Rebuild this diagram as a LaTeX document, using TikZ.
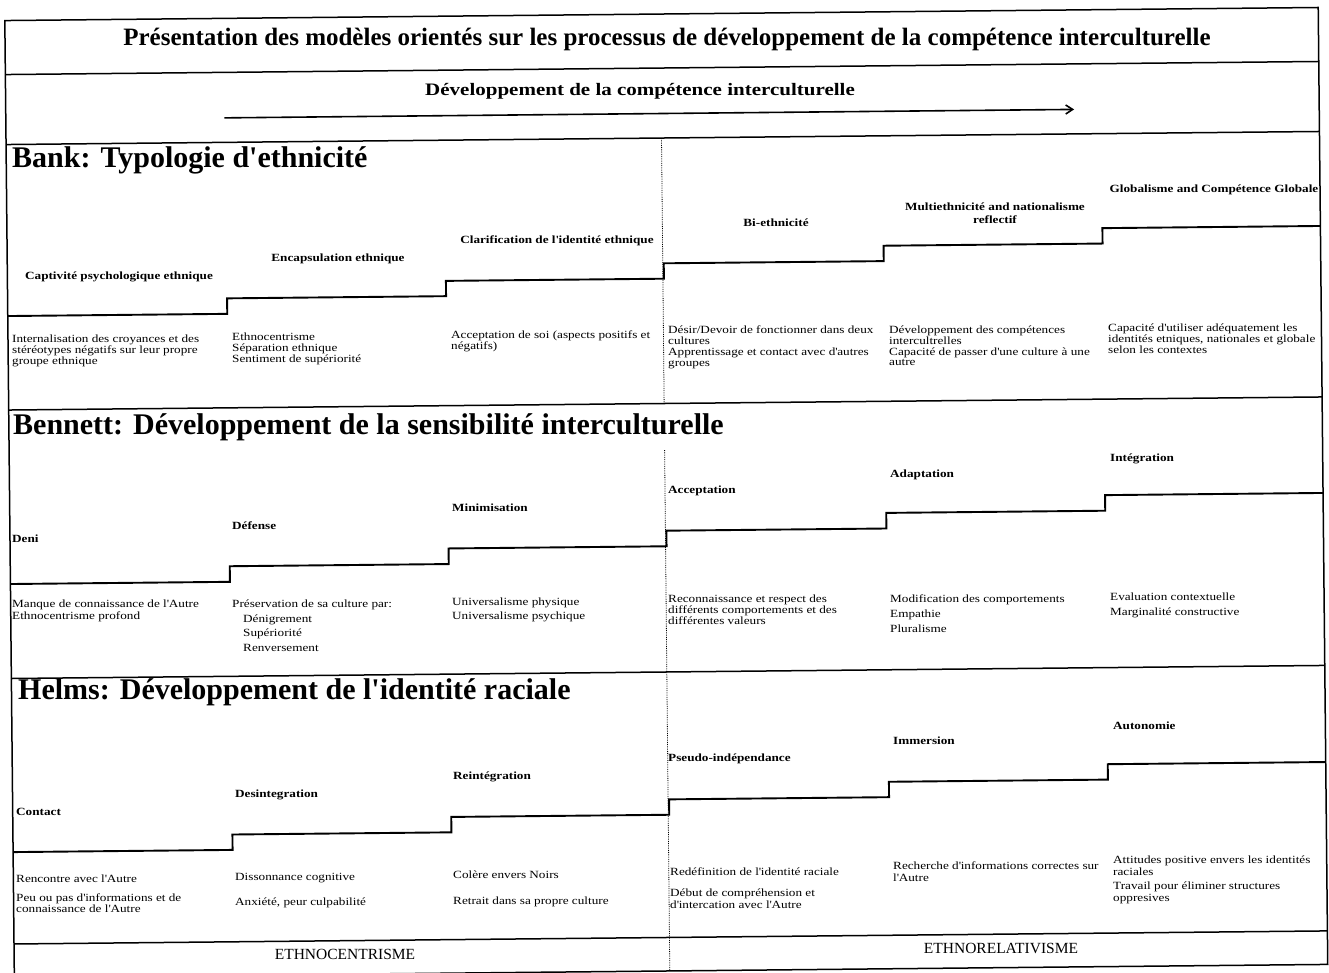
\documentclass[tikz,border=0pt]{standalone}
\usepackage{fontspec}
\setmainfont{Liberation Serif}
\newfontfamily\wide{Liberation Serif}[FakeStretch=1.2]
\usetikzlibrary{arrows.meta}
\lineskiplimit=-20pt
\newcommand\sq{\XeTeXglyph\XeTeXcharglyph"27\relax}
\begin{document}
\begin{tikzpicture}[x=1pt,y=-1pt,
  frame/.style={line width=1.5pt},
  stair/.style={line width=1.9pt},
  midline/.style={line width=0.8pt, densely dotted},
  lab/.style={font=\wide\bfseries\fontsize{11}{13}\selectfont, inner sep=0pt},
  desc/.style={font=\wide\fontsize{11}{10.8}\selectfont, align=left, inner sep=0pt, anchor=north west},
  sect/.style={font=\bfseries\fontsize{30}{32}\selectfont, inner sep=0pt, anchor=mid west},
  bigtitle/.style={font=\bfseries\fontsize{25}{27}\selectfont, inner sep=0pt, anchor=mid},
  foot/.style={font=\fontsize{15.5}{17}\selectfont, inner sep=0pt, anchor=mid},
]
\useasboundingbox (0,0) rectangle (1329,973);
\fill[white] (0,0) rectangle (1329,973);
\begin{scope}[rotate around={0.57:(665,490)}]
  % frame and row dividers
  \draw[frame] (9.5,14) rectangle (1323,971);
  \draw[frame] (9.5,68) -- (1323,68);
  \draw[frame] (9.5,138) -- (1323,138);
  \draw[frame] (9.5,403.5) -- (1323,403.5);
  \draw[frame] (9.5,672) -- (1323,672);
  \draw[frame] (9.5,937.5) -- (1323,937.5);
  % middle dotted separator
  \draw[midline] (665,138) -- (665,403.5);
  \draw[midline] (665,450) -- (665,672);
  \draw[midline] (665,672) -- (665,971);
  % arrow
  \coordinate (arS) at (228,113.5);
  \coordinate (arE) at (1078,113.5);
  \draw[line width=1.6pt, -{Straight Barb[length=7pt,width=9pt,line width=1.6pt]}] (arS) -- (arE);
  % stairs
  \draw[stair] (9.5,309.5) -| (229,294) -| (448,278.7) -| (666,263.3) -| (886,247.9) -| (1105,232.5) -- (1323,232.5);
  \draw[stair] (9.5,577.5) -| (229,561.9) -| (448,546.3) -| (666,530.7) -| (886,515.1) -| (1105,499.5) -- (1323,499.5);
  \draw[stair] (9.5,845.6) -| (229,830.2) -| (448,814.8) -| (666,799.4) -| (886,784) -| (1105,768.6) -- (1323,768.6);
\end{scope}

% headings
\node[bigtitle] (title) at (667,43) {Présentation des modèles orientés sur les processus de développement de la compétence interculturelle};
\node[font=\wide\bfseries\fontsize{17.5}{19}\selectfont, inner sep=0pt, anchor=mid] (dev) at (640,93) {Développement de la compétence interculturelle};

% Bank
\node[sect] (bank) at (12,165.5) {Bank: Typologie d\sq ethnicité};
\node[lab, anchor=mid] (b1) at (119,277) {Captivité psychologique ethnique};
\node[lab, anchor=mid] (b2) at (338,259) {Encapsulation ethnique};
\node[lab, anchor=mid] (b3) at (557,241.5) {Clarification de l\sq identité ethnique};
\node[lab, anchor=mid] (b4) at (776,224) {Bi-ethnicité};
\node[lab, anchor=north, align=center] (b5) at (995,202.7) {Multiethnicité and nationalisme\\reflectif};
\node[lab, anchor=mid] (b6) at (1214,190) {Globalisme and Compétence Globale};
\node[desc] (bd1) at (12,334.7) {Internalisation des croyances et des\\stéréotypes négatifs sur leur propre\\groupe ethnique};
\node[desc] (bd2) at (232,332.7) {Ethnocentrisme\\Séparation ethnique\\Sentiment de supériorité};
\node[desc] (bd3) at (451,330.7) {Acceptation de soi (aspects positifs et\\négatifs)};
\node[desc] (bd4) at (668,325.7) {Désir/Devoir de fonctionner dans deux\\cultures\\Apprentissage et contact avec d\sq autres\\groupes};
\node[desc] (bd5) at (889,325.7) {Développement des compétences\\intercultrelles\\Capacité de passer d\sq une culture à une\\autre};
\node[desc] (bd6) at (1108,323.7) {Capacité d\sq utiliser adéquatement les\\identités etniques, nationales et globale\\selon les contextes};

% Bennett
\node[sect] (bennett) at (13,432.5) {Bennett: Développement de la sensibilité interculturelle};
\node[lab, anchor=mid west] (n1) at (12,540) {Deni};
\node[lab, anchor=mid west] (n2) at (232,527) {Défense};
\node[lab, anchor=mid west] (n3) at (452,509) {Minimisation};
\node[lab, anchor=mid west] (n4) at (668,491) {Acceptation};
\node[lab, anchor=mid west] (n5) at (890,475) {Adaptation};
\node[lab, anchor=mid west] (n6) at (1110,459) {Intégration};
\node[desc] (nd1) at (12,599.7) {Manque de connaissance de l\sq Autre\\[1pt]Ethnocentrisme profond};
\node[desc] (nd2) at (232,599.7) {Préservation de sa culture par:\\[3.7pt]\hspace*{11pt}Dénigrement\\[3.7pt]\hspace*{11pt}Supériorité\\[3.7pt]\hspace*{11pt}Renversement};
\node[desc] (nd3) at (452,597.7) {Universalisme physique\\[3.2pt]Universalisme psychique};
\node[desc] (nd4) at (668,594.7) {Reconnaissance et respect des\\différents comportements et des\\différentes valeurs};
\node[desc] (nd5) at (890,594.7) {Modification des comportements\\[4.2pt]Empathie\\[4.2pt]Pluralisme};
\node[desc] (nd6) at (1110,592.7) {Evaluation contextuelle\\[4.2pt]Marginalité constructive};

% Helms
\node[sect] (helms) at (18,697) {Helms: Développement de l\sq identité raciale};
\node[lab, anchor=mid west] (h1) at (16,813) {Contact};
\node[lab, anchor=mid west] (h2) at (235,795) {Desintegration};
\node[lab, anchor=mid west] (h3) at (453,777) {Reintégration};
\node[lab, anchor=mid west] (h4) at (668,759) {Pseudo-indépendance};
\node[lab, anchor=mid west] (h5) at (893,742) {Immersion};
\node[lab, anchor=mid west] (h6) at (1113,727) {Autonomie};
\node[desc] (hd1) at (16,874.7) {Rencontre avec l\sq Autre\\[8pt]Peu ou pas d\sq informations et de\\connaissance de l\sq Autre};
\node[desc] (hd2) at (235,872.7) {Dissonnance cognitive\\[15pt]Anxiété, peur culpabilité};
\node[desc] (hd3) at (453,870.7) {Colère envers Noirs\\[15pt]Retrait dans sa propre culture};
\node[desc] (hd4) at (670,867.7) {Redéfinition de l\sq identité raciale\\[10pt]Début de compréhension et\\[1pt]d\sq intercation avec l\sq Autre};
\node[desc] (hd5) at (893,861.7) {Recherche d\sq informations correctes sur\\[1pt]l\sq Autre};
\node[desc] (hd6) at (1113,855.7) {Attitudes positive envers les identités\\[1pt]raciales\\[3pt]Travail pour éliminer structures\\[1.5pt]oppresives};

% footer
\node[foot] (ethc) at (345,957) {ETHNOCENTRISME};
\node[foot] (ethr) at (1001,951) {ETHNORELATIVISME};
\end{tikzpicture}
\end{document}
